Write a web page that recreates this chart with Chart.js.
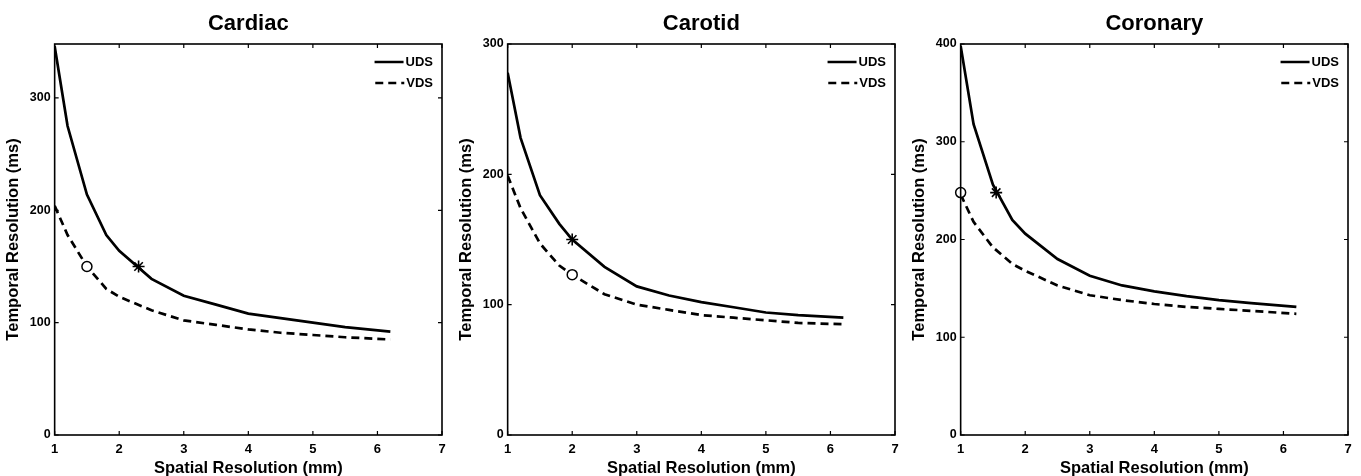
<!DOCTYPE html>
<html>
<head>
<meta charset="utf-8">
<script src="https://cdn.jsdelivr.net/npm/chart.js@4.4.1/dist/chart.umd.min.js"></script>
<style>
  body { margin: 0; background: #fff; }
  .panel { position: absolute; top: 0; width: 453px; height: 476px; }
</style>
</head>
<body>
<div class="panel" style="left:0px"><canvas id="cardiac"></canvas></div>
<div class="panel" style="left:453px"><canvas id="carotid"></canvas></div>
<div class="panel" style="left:906px"><canvas id="coronary"></canvas></div>
<script>
// spatial resolution (mm) sample points, shared by all panels
const spatialRes = [1, 1.2, 1.5, 1.8, 2, 2.5, 3, 3.5, 4, 4.5, 5, 5.5, 6.2];
const xTicks = [1, 2, 3, 4, 5, 6, 7];

// temporal resolution (ms)
const cardiacUDS  = [346, 275, 214, 178, 164, 139, 124, 116, 108, 104, 100, 96, 92];
const cardiacVDS  = [204, 178, 150, 130, 123, 111, 102, 98, 94, 91, 89, 87, 85];
const carotidUDS  = [278, 228, 184, 162, 150, 129, 114, 107, 102, 98, 94, 92, 90];
const carotidVDS  = [199, 174, 147, 130, 123, 108, 100, 96, 92, 90, 88, 86, 85];
const coronaryUDS = [398, 318, 256, 220, 206, 180, 163, 153, 147, 142, 138, 135, 131];
const coronaryVDS = [246, 218, 192, 175, 168, 153, 143, 138, 134, 131, 129, 127, 124];

// marked operating points [x, y]
const cardiacStar = [2.3, 150],  cardiacCircle = [1.5, 150];
const carotidStar = [2, 150],    carotidCircle = [2, 123];
const coronaryStar = [1.55, 248], coronaryCircle = [1, 248];

const FONT = '"Liberation Sans", Arial, sans-serif';

// box, inward ticks, title and legend drawn MATLAB style
const matlabBox = {
  id: 'matlabBox',
  afterDraw(chart, args, opts) {
    const { ctx, chartArea: a, scales } = chart;
    ctx.save();
    ctx.strokeStyle = '#000';
    ctx.lineWidth = 1.6;
    ctx.strokeRect(a.left, a.top, a.right - a.left, a.bottom - a.top);
    ctx.lineWidth = 1.2;
    const tl = 4;
    scales.x.ticks.forEach(t => {
      const px = scales.x.getPixelForValue(t.value);
      ctx.beginPath();
      ctx.moveTo(px, a.bottom); ctx.lineTo(px, a.bottom - tl);
      ctx.moveTo(px, a.top); ctx.lineTo(px, a.top + tl);
      ctx.stroke();
    });
    scales.y.ticks.forEach(t => {
      const py = scales.y.getPixelForValue(t.value);
      ctx.beginPath();
      ctx.moveTo(a.left, py); ctx.lineTo(a.left + tl, py);
      ctx.moveTo(a.right, py); ctx.lineTo(a.right - tl, py);
      ctx.stroke();
    });

    // title centred over the plot area
    ctx.fillStyle = '#000';
    ctx.font = 'bold 22px ' + FONT;
    ctx.textAlign = 'center';
    ctx.textBaseline = 'middle';
    ctx.fillText(opts.title, (a.left + a.right) / 2, 24);

    // legend inside top-right
    ctx.font = 'bold 13px ' + FONT;
    ctx.textAlign = 'right';
    const entries = chart.data.datasets.filter(d => d.inLegend);
    entries.forEach((d, i) => {
      const y = a.top + 18 + i * 21;
      const textRight = a.right - 9;
      const textW = ctx.measureText(d.label).width;
      ctx.fillText(d.label, textRight, y);
      ctx.beginPath();
      ctx.setLineDash(d.borderDash || []);
      ctx.lineWidth = 2.5;
      ctx.moveTo(textRight - textW - 31, y);
      ctx.lineTo(textRight - textW - 2, y);
      ctx.stroke();
      ctx.setLineDash([]);
    });
    ctx.restore();
  }
};

function makeChart(id, title, yMax, uds, vds, star, circle) {
  const ctx = document.getElementById(id).getContext('2d');
  return new Chart(ctx, {
    type: 'line',
    data: {
      datasets: [
        {
          label: 'UDS', inLegend: true, order: 1,
          data: spatialRes.map((x, i) => ({ x: x, y: uds[i] })),
          borderColor: '#000', borderWidth: 2.7, pointRadius: 0, tension: 0
        },
        {
          label: 'VDS', inLegend: true, order: 1,
          data: spatialRes.map((x, i) => ({ x: x, y: vds[i] })),
          borderColor: '#000', borderWidth: 2.7, borderDash: [8, 5], pointRadius: 0, tension: 0
        },
        {
          label: 'UDS point', order: 0, clip: false,
          data: [{ x: star[0], y: star[1] }],
          showLine: false, pointStyle: 'star', pointRadius: 6,
          borderColor: '#000', pointBorderWidth: 1.6
        },
        {
          label: 'VDS point', order: 0, clip: false,
          data: [{ x: circle[0], y: circle[1] }],
          showLine: false, pointStyle: 'circle', pointRadius: 5,
          borderColor: '#000', backgroundColor: '#fff', pointBorderWidth: 1.5
        }
      ]
    },
    options: {
      responsive: true,
      maintainAspectRatio: false,
      animation: false,
      layout: { padding: { left: 4, right: 11, top: 44, bottom: 0 } },
      scales: {
        x: {
          type: 'linear', min: 1, max: 7,
          afterBuildTicks: s => { s.ticks = xTicks.map(v => ({ value: v })); },
          afterFit: s => { s.height = 41; },
          grid: { display: false, drawTicks: false },
          border: { display: false },
          ticks: { color: '#000', padding: 7, font: { family: FONT, weight: 'bold', size: 13 } },
          title: {
            display: true, text: 'Spatial Resolution (mm)', color: '#000',
            padding: { top: 0, bottom: 0 },
            font: { family: FONT, weight: 'bold', size: 16.5, lineHeight: 0.95 }
          }
        },
        y: {
          type: 'linear', min: 0, max: yMax,
          grid: { display: false, drawTicks: false },
          border: { display: false },
          ticks: {
            stepSize: 100, includeBounds: false, color: '#000', padding: 4,
            font: { family: FONT, weight: 'bold', size: 12.5 }
          },
          title: {
            display: true, text: 'Temporal Resolution (ms)', color: '#000',
            padding: { top: 0, bottom: 2 },
            font: { family: FONT, weight: 'bold', size: 16.5 }
          }
        }
      },
      plugins: {
        legend: { display: false },
        tooltip: { enabled: false },
        matlabBox: { title: title }
      }
    },
    plugins: [matlabBox]
  });
}

makeChart('cardiac', 'Cardiac', 348, cardiacUDS, cardiacVDS, cardiacStar, cardiacCircle);
makeChart('carotid', 'Carotid', 300, carotidUDS, carotidVDS, carotidStar, carotidCircle);
makeChart('coronary', 'Coronary', 400, coronaryUDS, coronaryVDS, coronaryStar, coronaryCircle);
</script>
</body>
</html>
